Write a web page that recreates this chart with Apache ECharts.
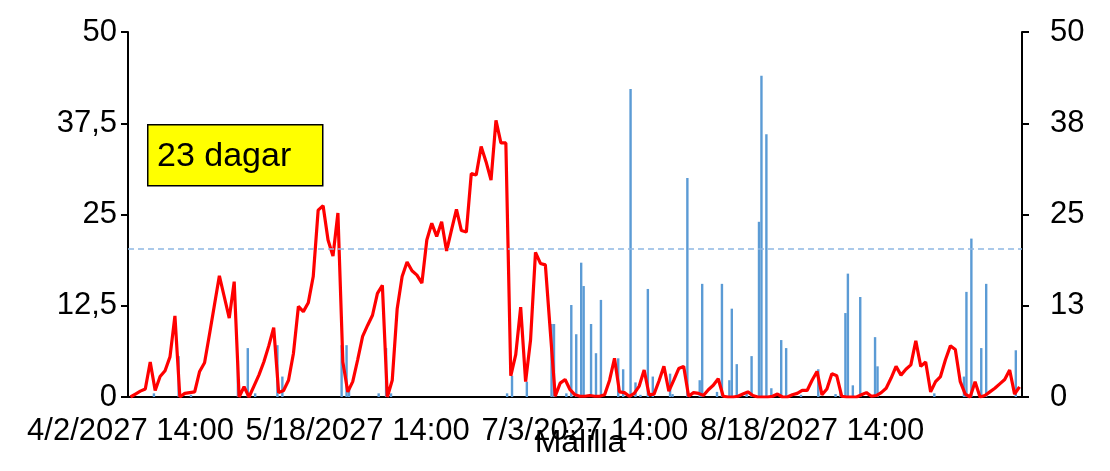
<!DOCTYPE html>
<html>
<head>
<meta charset="utf-8">
<script src="https://cdn.jsdelivr.net/npm/echarts@6/dist/echarts.min.js"></script>
<style>
  html, body { margin: 0; padding: 0; background: #fff; }
  #chart { width: 1110px; height: 471px; }
</style>
</head>
<body>
<div id="chart"></div>
<script>
// first day of the series and number of days
const startDate = new Date(2027, 3, 2, 14, 0);
const dayCount = 181;

// daily index (red line), left axis
const indexValues = [
  0, 0.4, 0.8, 1.1, 4.8, 0.9, 2.8, 3.6, 5.5, 11.1,
  0, 0.5, 0.6, 0.7, 3.5, 4.7, 8.6, 12.6, 16.6, 13.7,
  10.8, 15.8, 0, 1.4, 0, 1.5, 3.0, 4.8, 7.0, 9.5,
  0.6, 0.9, 2.3, 6.0, 12.4, 11.7, 12.9, 16.5, 25.6, 26.2,
  21.5, 19.3, 25.2, 4.8, 0.7, 2.1, 5.1, 8.3, 9.8, 11.2,
  14.2, 15.3, 0, 2.3, 12.1, 16.5, 18.5, 17.3, 16.7, 15.6,
  21.5, 23.8, 22.0, 24.0, 20.0, 22.9, 25.7, 22.8, 22.6, 30.6,
  30.4, 34.3, 32.2, 29.7, 37.9, 34.8, 34.8, 2.9, 5.8, 12.3,
  2.1, 7.8, 19.8, 18.3, 18.1, 9.0, 0.1, 1.9, 2.4, 1.0,
  0.3, 0.1, 0.1, 0.2, 0.1, 0.1, 0.3, 2.3, 5.3, 0.7,
  0.6, 0.1, 0.5, 1.5, 3.7, 0.3, 0.4, 2.2, 4.2, 0.8,
  2.3, 3.9, 4.2, 0.1, 0.6, 0.5, 0.2, 1.0, 1.6, 2.5,
  0.1, 0, 0, 0.1, 0.4, 0.7, 0.2, 0, 0, 0,
  0.1, 0.4, 0, 0, 0.3, 0.5, 0.9, 0.9, 2.3, 3.5,
  0.3, 1.1, 3.2, 2.9, 0.1, 0, 0, 0, 0.3, 0.6,
  0.1, 0.2, 0.6, 1.2, 2.6, 4.2, 3.0, 3.8, 4.4, 7.7,
  4.2, 4.8, 0.7, 2.1, 2.8, 5.1, 7.0, 6.5, 2.1, 0.4,
  0, 2.1, 0, 0.2, 0.7, 1.2, 1.8, 2.4, 3.7, 0.4, 1.4
];

// rain bars, right axis: [half-day slot, mm]
const rainHalfDays = [
  [10, 0.5], [20, 5.6], [25, 0.3], [44, 5.0], [48, 6.7], [51, 0.5], [60, 7.1], [62, 2.8],
  [86, 7.1], [88, 7.1], [89, 1.2], [101, 0.5], [104, 6.7], [106, 0.5],
  [153, 0.5], [155, 2.9], [161, 2.1], [171, 10], [172, 10], [177, 0.5], [179, 12.6],
  [181, 8.6], [183, 18.4], [184, 15.2], [187, 10], [189, 6.0], [191, 13.3],
  [198, 5.3], [200, 3.8], [203, 42.2], [205, 2.0], [207, 0.3], [210, 14.8], [212, 2.8],
  [219, 3.2], [220, 0.4], [226, 30.0], [231, 2.3], [232, 15.5], [238, 0.7], [240, 15.5],
  [243, 2.3], [244, 12.1], [246, 4.5], [250, 0.7], [252, 5.6], [255, 24.0], [256, 44.0],
  [258, 36.0], [260, 1.2], [264, 7.8], [266, 6.7], [272, 0.3], [279, 3.8],
  [286, 0.4], [288, 0.7], [290, 11.5], [291, 16.9], [293, 1.6], [296, 13.7],
  [302, 8.2], [303, 4.2], [326, 0.5], [338, 2.8], [339, 14.4], [341, 21.7],
  [345, 6.7], [347, 15.5], [359, 6.4]
];

const threshold = 20.3;
const boxText = '23 dagar';
const chartTitle = 'Mälilla';

function fmt(d, h) {
  return (d.getMonth() + 1) + '/' + d.getDate() + '/' + d.getFullYear() + ' ' + h;
}
const dayLabels = [];
for (let i = 0; i < dayCount; i++) {
  dayLabels.push(fmt(new Date(startDate.getTime() + i * 86400000), '14:00'));
}
const halfDayLabels = [];
for (let k = 0; k < dayCount * 2; k++) {
  halfDayLabels.push(fmt(new Date(startDate.getTime() + k * 43200000), k % 2 ? '02:00' : '14:00'));
}

const font = 'Liberation Sans';
const chart = echarts.init(document.getElementById('chart'));
chart.setOption({
  animation: false,
  textStyle: { fontFamily: font },
  title: {
    text: chartTitle,
    left: 575,
    top: 422,
    textAlign: 'center',
    textStyle: { fontFamily: font, fontSize: 32, fontWeight: 'normal', color: '#000' }
  },
  grid: { left: 128, right: 88, top: 32, bottom: 74 },
  xAxis: [
    {
      type: 'category',
      data: dayLabels,
      axisLine: { lineStyle: { color: '#000', width: 2 } },
      axisTick: { interval: 0, length: 6, lineStyle: { color: '#000', width: 1.5 } },
      axisLabel: { interval: 45, fontSize: 31, color: '#000', margin: 19, fontFamily: font }
    },
    { type: 'category', data: halfDayLabels, show: false }
  ],
  yAxis: [
    {
      type: 'value', min: 0, max: 50, interval: 12.5, position: 'left',
      splitLine: { show: false },
      axisLine: { show: true, lineStyle: { color: '#000', width: 2 } },
      axisTick: { show: true, length: 7, lineStyle: { color: '#000', width: 2 } },
      axisLabel: {
        fontSize: 31, color: '#000', margin: 11, fontFamily: font,
        formatter: (v) => String(v).replace('.', ',')
      }
    },
    {
      type: 'value', min: 0, max: 50, interval: 12.5, position: 'right',
      splitLine: { show: false },
      axisLine: { show: true, lineStyle: { color: '#000', width: 2 } },
      axisTick: { show: true, length: 7, lineStyle: { color: '#000', width: 2 } },
      axisLabel: {
        fontSize: 31, color: '#000', margin: 28, fontFamily: font,
        formatter: (v) => String(Math.round(v))
      }
    }
  ],
  series: [
    {
      type: 'bar',
      xAxisIndex: 1,
      yAxisIndex: 1,
      data: rainHalfDays,
      barWidth: 2.4,
      itemStyle: { color: '#5b9bd5' }
    },
    {
      type: 'line',
      xAxisIndex: 0,
      yAxisIndex: 0,
      data: indexValues,
      symbol: 'none',
      lineStyle: { color: '#ff0000', width: 3.2 },
      markLine: {
        symbol: 'none',
        silent: true,
        label: { show: false },
        lineStyle: { color: '#8fb8e3', type: [6, 4], width: 1.5 },
        data: [{ yAxis: threshold }]
      }
    }
  ],
  graphic: [
    {
      type: 'rect',
      left: 147, top: 124,
      shape: { width: 175, height: 61 },
      style: { fill: '#ffff00', stroke: '#000', lineWidth: 1.5 }
    },
    {
      type: 'text',
      left: 157, top: 140,
      style: { text: boxText, font: '34px "Liberation Sans"', fill: '#000' }
    }
  ]
});
</script>
</body>
</html>
